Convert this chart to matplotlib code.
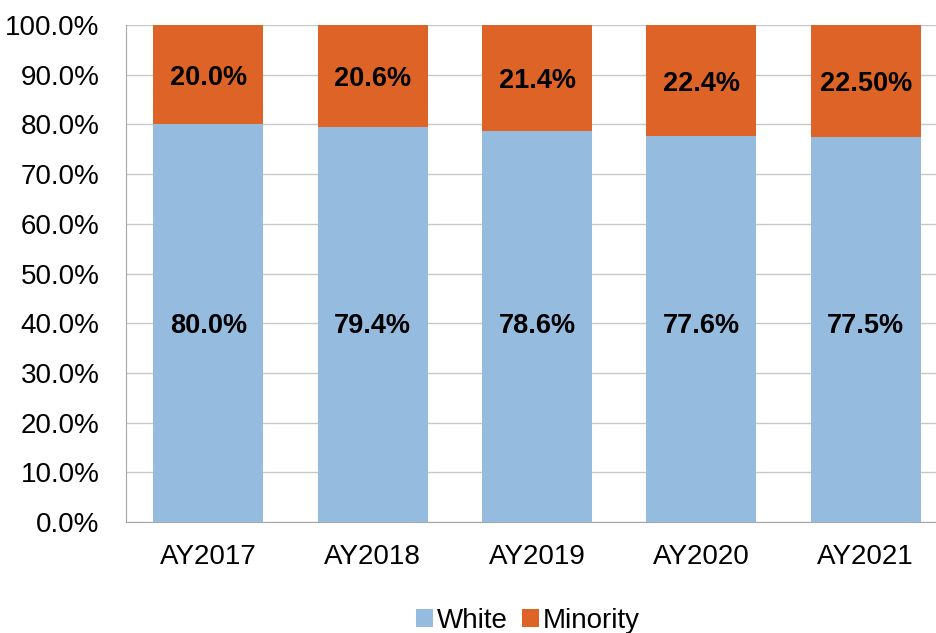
import matplotlib
matplotlib.use("Agg")
import matplotlib.pyplot as plt
from matplotlib.ticker import PercentFormatter

years = ["AY2017", "AY2018", "AY2019", "AY2020", "AY2021"]
white = [80.0, 79.4, 78.6, 77.6, 77.5]
minority = [20.0, 20.6, 21.4, 22.4, 22.5]
minority_labels = ["20.0%", "20.6%", "21.4%", "22.4%", "22.50%"]

blue = "#95bbdf"
orange = "#dd6326"

plt.rcParams["font.family"] = ["Liberation Sans", "DejaVu Sans"]

fig = plt.figure(figsize=(9.37, 6.33), dpi=100)
ax = fig.add_axes([126/937, 111/633, 822/937, 497/633])

x = range(len(years))
ax.bar(x, white, width=0.67, color=blue, label="White", zorder=3)
ax.bar(x, minority, width=0.67, bottom=white, color=orange, label="Minority", zorder=3)

for i in x:
    ax.text(i, 40, f"{white[i]:.1f}%", ha="center", va="center_baseline",
            fontsize=19.5, fontweight="bold", zorder=4)
    ax.text(i, white[i] + minority[i] / 2, minority_labels[i], ha="center",
            va="center_baseline", fontsize=19.5, fontweight="bold", zorder=4)

ax.set_xlim(-0.5, len(years) - 0.5)
ax.set_ylim(0, 100)
ax.set_yticks(range(0, 101, 10))
ax.yaxis.set_major_formatter(PercentFormatter(decimals=1))
ax.set_xticks(list(x))
ax.set_xticklabels(years)
ax.tick_params(axis="both", labelsize=20, length=0, colors="black")
ax.tick_params(axis="x", pad=16)
ax.tick_params(axis="y", pad=19)
ax.grid(axis="y", color="#c8c8c8", linewidth=1, zorder=0)

for s in ["top", "right"]:
    ax.spines[s].set_visible(False)
ax.spines["left"].set_color("#a6a6a6")
ax.spines["bottom"].set_color("#a6a6a6")

ax.legend(loc="upper center", bbox_to_anchor=(0.489, -0.162), ncol=2,
          frameon=False, fontsize=20, handlelength=0.6, handleheight=0.6,
          handletextpad=0.15, columnspacing=0.5, borderaxespad=0, borderpad=0.2)

fig.savefig("out.png", dpi=100)
